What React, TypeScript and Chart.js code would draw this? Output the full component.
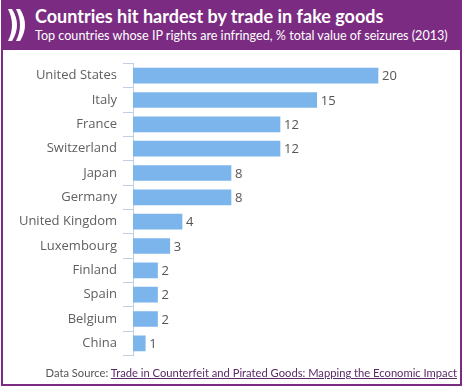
import React, { useEffect, useRef } from "react";
import { Chart, registerables } from "chart.js";

Chart.register(...registerables);

const countries = [
  "United States",
  "Italy",
  "France",
  "Switzerland",
  "Japan",
  "Germany",
  "United Kingdom",
  "Luxembourg",
  "Finland",
  "Spain",
  "Belgium",
  "China",
];
const seizureShare = [20, 15, 12, 12, 8, 8, 4, 3, 2, 2, 2, 1];

const PURPLE = "#7b2c82";
const FONT = "'Open Sans', 'Noto Sans', sans-serif";
const HFONT = "Lato, 'Open Sans', sans-serif";

const dataLabels = {
  id: "dataLabels",
  afterDatasetsDraw(chart: any) {
    const ctx = chart.ctx;
    const meta = chart.getDatasetMeta(0);
    const values = chart.data.datasets[0].data;
    ctx.save();
    ctx.font = `13px ${FONT}`;
    ctx.fillStyle = "#555555";
    ctx.textAlign = "left";
    ctx.textBaseline = "middle";
    meta.data.forEach((bar: any, i: number) => {
      ctx.fillText(String(values[i]), bar.x + 4, bar.y + 1);
    });
    ctx.restore();
  },
};

export default function App() {
  const ref = useRef<HTMLCanvasElement | null>(null);

  useEffect(() => {
    if (!ref.current) return;
    const chart = new Chart(ref.current, {
      type: "bar",
      data: {
        labels: countries,
        datasets: [
          {
            data: seizureShare,
            backgroundColor: "#7cb5ec",
            borderWidth: 0,
            barThickness: 15,
          },
        ],
      },
      options: {
        indexAxis: "y",
        animation: false,
        responsive: false,
        devicePixelRatio: 1,
        layout: { padding: { left: 0, top: 63.5, bottom: 33.5, right: 25.75 } },
        plugins: {
          legend: { display: false },
          tooltip: { enabled: false },
          title: { display: false },
        },
        scales: {
          x: {
            display: false,
            min: 0,
            max: 25,
          },
          y: {
            afterFit(scale: any) {
              scale.width = 133;
            },
            grid: {
              offset: true,
              drawOnChartArea: false,
              drawTicks: true,
              tickLength: 10,
              color: "#c0d0e0",
            },
            border: { display: true, color: "#c0d0e0", width: 1 },
            ticks: {
              padding: 6,
              color: "#606060",
              font: { family: FONT, size: 13 },
            },
          },
        },
      },
      plugins: [dataLabels],
    });
    return () => chart.destroy();
  }, []);

  return (
    <div
      style={{
        position: "absolute",
        left: 0,
        top: 0,
        width: 465,
        height: 389,
        background: "#ffffff",
        overflow: "hidden",
        fontFamily: HFONT,
      }}
    >
      <canvas
        ref={ref}
        width={465}
        height={389}
        style={{ position: "absolute", left: 0, top: 0, width: 465, height: 389 }}
      />
      <div
        style={{
          position: "absolute",
          left: 1,
          top: 0,
          width: 461,
          height: 386,
          border: `2px solid ${PURPLE}`,
          boxSizing: "border-box",
          pointerEvents: "none",
        }}
      />
      <div
        style={{
          position: "absolute",
          left: 1,
          top: 0,
          width: 461,
          height: 50,
          background: PURPLE,
        }}
      >
        <svg
          width="20"
          height="32"
          viewBox="0 0 20 32"
          style={{ position: "absolute", left: 6, top: 9 }}
        >
          <path d="M1 0 L5 0 Q10 8 10 16 Q10 24 5 32 L1 32 Q5 24 5 16 Q5 8 1 0 Z" fill="#ffffff" />
          <path d="M9 0 L13 0 Q18 8 18 16 Q18 24 13 32 L9 32 Q13 24 13 16 Q13 8 9 0 Z" fill="#ffffff" />
        </svg>
        <div
          style={{
            position: "absolute",
            left: 34,
            top: 5,
            color: "#ffffff",
            fontWeight: 700,
            fontSize: 18,
            whiteSpace: "nowrap",
            lineHeight: "22px",
          }}
        >
          Countries hit hardest by trade in fake goods
        </div>
        <div
          style={{
            position: "absolute",
            left: 34,
            top: 28,
            color: "#ffffff",
            fontSize: 12.6,
            whiteSpace: "nowrap",
            lineHeight: "16px",
          }}
        >
          Top countries whose IP rights are infringed, % total value of seizures (2013)
        </div>
      </div>
      <div
        style={{
          position: "absolute",
          right: 8,
          top: 365,
          fontSize: 11.2,
          color: "#555555",
          whiteSpace: "nowrap",
          lineHeight: "16px",
        }}
      >
        Data Source:{" "}
        <span style={{ color: "#5a2a66", textDecoration: "underline" }}>
          Trade in Counterfeit and Pirated Goods: Mapping the Economic Impact
        </span>
      </div>
    </div>
  );
}
